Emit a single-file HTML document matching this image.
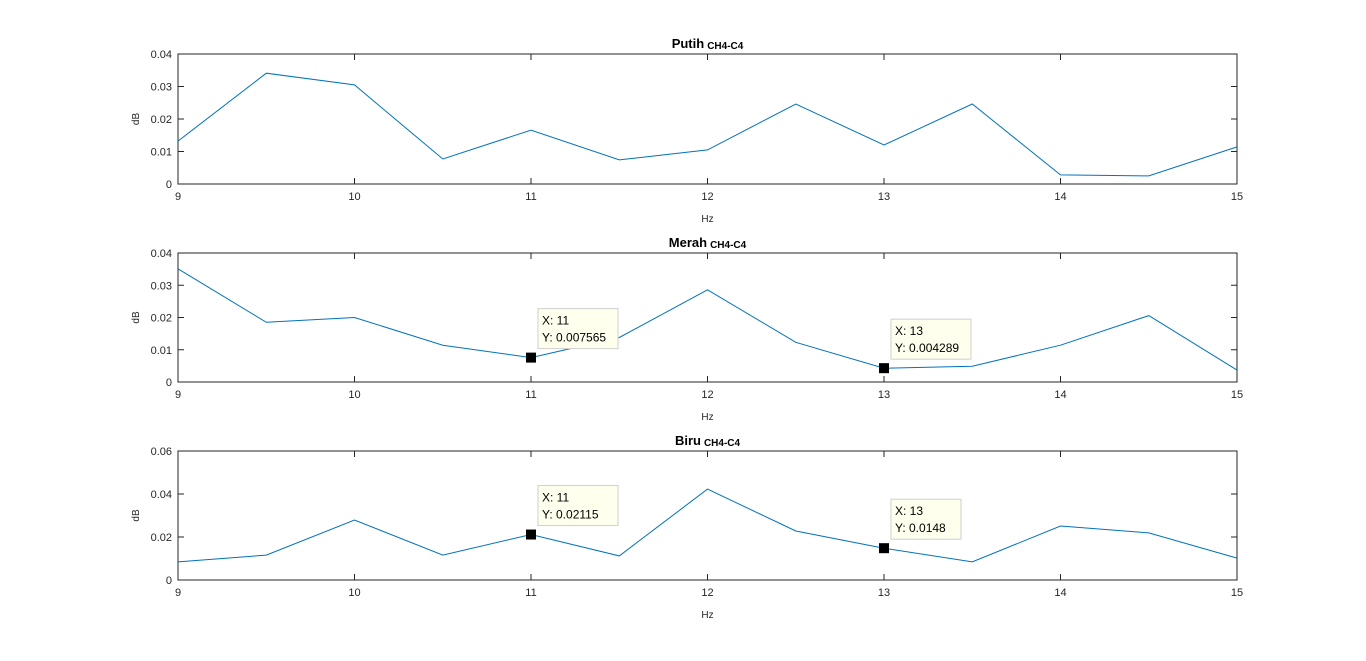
<!DOCTYPE html>
<html><head><meta charset="utf-8"><style>
html,body{margin:0;padding:0;background:#fff;}
svg{display:block;font-family:"Liberation Sans",Arial,sans-serif;}
</style></head><body>
<svg id="fig" width="1366" height="661" viewBox="0 0 1366 661"></svg>
<script>
const xValues=[9,9.5,10,10.5,11,11.5,12,12.5,13,13.5,14,14.5,15];
const xTicks=[9,10,11,12,13,14,15];
const putihValues=[0.0132,0.0341,0.0305,0.0077,0.0166,0.0074,0.0105,0.0246,0.0120,0.0246,0.0028,0.0025,0.0114];
const merahValues=[0.0351,0.0185,0.0200,0.0114,0.007565,0.0138,0.0286,0.0123,0.004289,0.0049,0.0114,0.0206,0.0037];
const biruValues=[0.0084,0.0116,0.0279,0.0116,0.02115,0.0112,0.0423,0.0228,0.0148,0.0084,0.0251,0.0219,0.0102];
const putihYTicks=[0,0.01,0.02,0.03,0.04];
const merahYTicks=[0,0.01,0.02,0.03,0.04];
const biruYTicks=[0,0.02,0.04,0.06];
const merahTips=[{x:11,y:0.007565,label:"0.007565"},{x:13,y:0.004289,label:"0.004289"}];
const biruTips=[{x:11,y:0.02115,label:"0.02115"},{x:13,y:0.0148,label:"0.0148"}];

const NS="http://www.w3.org/2000/svg";
const svg=document.getElementById('fig');
function mk(tag,attrs,parent){const e=document.createElementNS(NS,tag);for(const k in attrs)e.setAttribute(k,attrs[k]);(parent||svg).appendChild(e);return e;}

const L=178,R=1237;
function panel(name,title,top,bottom,vals,yTicks,tips){
  const g=mk('g',{});
  
  
  const ymax=yTicks[yTicks.length-1];
  const X=v=>L+(v-9)/(15-9)*(R-L);
  const Y=v=>bottom-v/ymax*(bottom-top);
  const box=mk('rect',{x:L,y:top,width:R-L,height:bottom-top,fill:'#fff',stroke:'#262626','stroke-width':1},g);
  
  
  xTicks.forEach(t=>{
    const x=X(t);
    mk('line',{x1:x,x2:x,y1:bottom,y2:bottom-6,stroke:'#262626'},g);
    mk('line',{x1:x,x2:x,y1:top,y2:top+6,stroke:'#262626'},g);
    const tx=mk('text',{x:x,y:bottom+16,'font-size':11,'text-anchor':'middle',fill:'#262626'},g);
    tx.textContent=t;
    
    
  });
  yTicks.forEach(t=>{
    const y=Y(t);
    mk('line',{x1:L,x2:L+6,y1:y,y2:y,stroke:'#262626'},g);
    mk('line',{x1:R,x2:R-6,y1:y,y2:y,stroke:'#262626'},g);
    const tx=mk('text',{x:L-6,y:y+4,'font-size':11,'text-anchor':'end',fill:'#262626'},g);
    tx.textContent=t;
    
    
  });
  const pts=xValues.map((v,i)=>X(v).toFixed(1)+','+Y(vals[i]).toFixed(1)).join(' ');
  const line=mk('polyline',{points:pts,fill:'none',stroke:'#0072BD','stroke-width':1},g);
  
  
  const xl=mk('text',{x:(L+R)/2,y:bottom+38,'font-size':10,'text-anchor':'middle',fill:'#262626'},g);
  xl.textContent='Hz';
  
  
  const yl=mk('text',{x:0,y:0,'font-size':10,'text-anchor':'middle',fill:'#262626',transform:`translate(139,${(top+bottom)/2}) rotate(-90)`},g);
  yl.textContent='dB';
  
  
  const tt=mk('text',{x:(L+R)/2,y:top-6,'font-size':13,'font-weight':'bold','text-anchor':'middle',fill:'#000'},g);
  
  
  const t1=mk('tspan',{},tt);t1.textContent=title;
  const t2=mk('tspan',{'font-size':10,dx:3,dy:1},tt);t2.textContent='CH4-C4';
  (tips||[]).forEach(tp=>{
    const px=X(tp.x),py=Y(tp.y);
    const m=mk('rect',{x:px-5,y:py-5,width:10,height:10,fill:'#000'},g);
    
    
    const w=tp.label.length>6?80:70;
    const bx=px+7,by=py-49;
    const b=mk('rect',{x:bx,y:by,width:w,height:40,fill:'#ffffee',stroke:'#cfcfcf'},g);
    
    
    const a=mk('text',{x:bx+4,y:by+16,'font-size':12,fill:'#000'},g);a.textContent='X: '+tp.x;
    
    
    const c=mk('text',{x:bx+4,y:by+33,'font-size':12,fill:'#000'},g);c.textContent='Y: '+tp.label;
    
    
  });
}
panel('putih','Putih',54,184,putihValues,putihYTicks,[]);
panel('merah','Merah',253,382,merahValues,merahYTicks,merahTips);
panel('biru','Biru',451,580,biruValues,biruYTicks,biruTips);
</script>
</body></html>
